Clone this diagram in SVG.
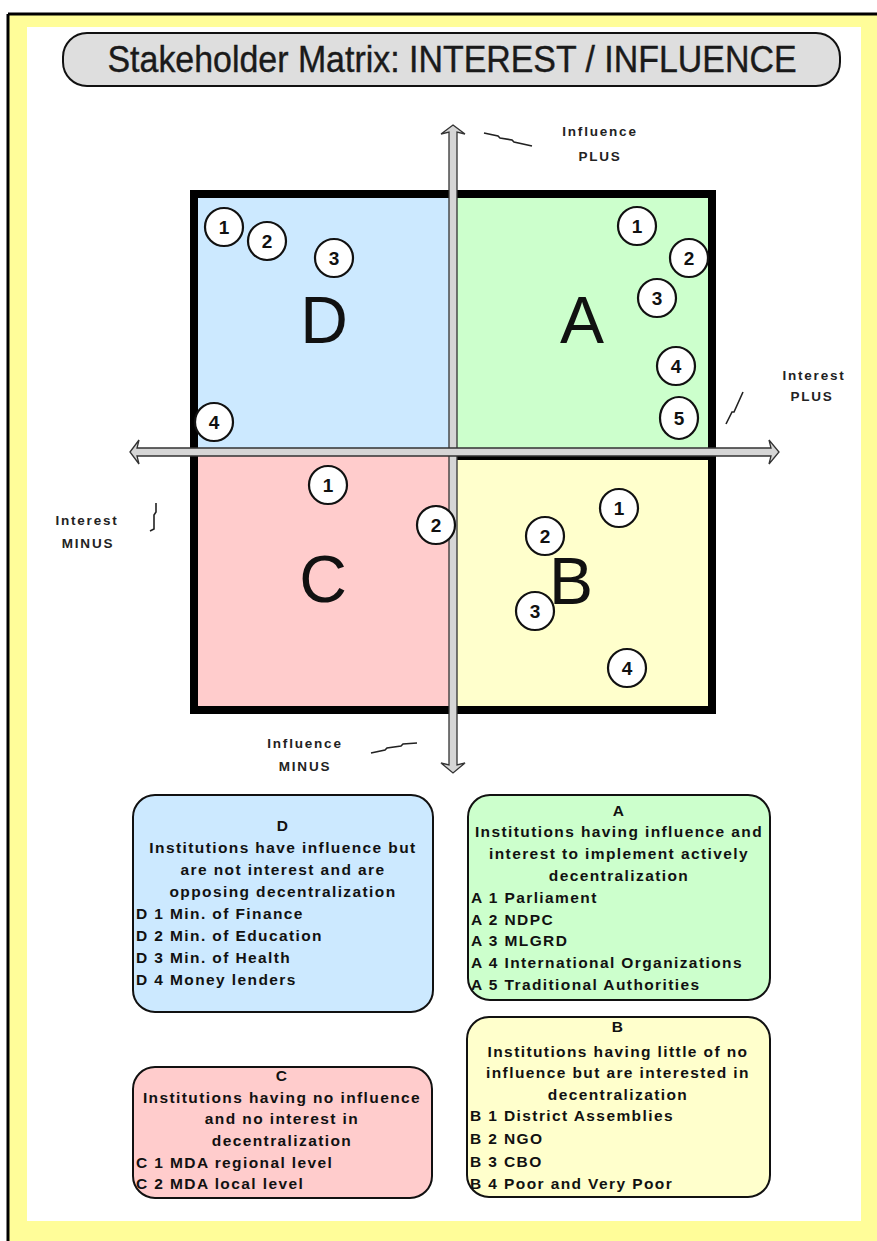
<svg xmlns="http://www.w3.org/2000/svg" width="877" height="1241" viewBox="0 0 877 1241">
  <style>
    .lbl { font-family: "Liberation Sans", Arial, sans-serif; font-weight: bold; font-size: 13.5px; letter-spacing: 1.8px; fill: #222; text-anchor: middle; }
    .quad { font-family: "Liberation Sans", Arial, sans-serif; font-size: 66px; fill: #111; text-anchor: middle; }
    .num { font-family: "Liberation Sans", Arial, sans-serif; font-weight: bold; font-size: 19px; fill: #111; text-anchor: middle; }
    .dot { fill: #fff; stroke: #111; stroke-width: 2.2; }
    .box { stroke: #111; stroke-width: 2; }
    .bt { font-family: "Liberation Sans", Arial, sans-serif; font-weight: bold; font-size: 15.5px; letter-spacing: 1.4px; fill: #111; }
    .c { text-anchor: middle; }
    .axis { fill: #d6d6d6; stroke: #333; stroke-width: 1.3; stroke-linejoin: miter; }
    .zig { fill: none; stroke: #222; stroke-width: 1.6; }
  </style>

  <!-- page frame -->
  <rect x="0" y="0" width="877" height="1241" fill="#fff"/>
  <rect x="8" y="15" width="869" height="1226" fill="#fffd99"/>
  <line x1="8" y1="14" x2="877" y2="14" stroke="#000" stroke-width="3"/>
  <line x1="8" y1="14" x2="8" y2="1241" stroke="#000" stroke-width="3"/>
  <rect x="27" y="27" width="834" height="1194" fill="#fff"/>

  <!-- title -->
  <g id="title">
    <rect x="63" y="33" width="777" height="53" rx="24" ry="24" fill="#dedede" stroke="#111" stroke-width="2"/>
    <text x="452" y="72" font-family="'Liberation Sans', Arial, sans-serif" font-size="36" fill="#1a1a1a" stroke="#1a1a1a" stroke-width="0.4" text-anchor="middle" textLength="689" lengthAdjust="spacingAndGlyphs">Stakeholder Matrix: INTEREST / INFLUENCE</text>
  </g>

  <!-- matrix quadrants -->
  <g id="matrix">
    <rect x="190" y="190" width="526" height="524" fill="#000"/>
    <rect id="quad-D" x="198" y="198" width="251" height="250" fill="#cce9ff"/>
    <rect id="quad-A" x="457" y="198" width="251" height="250" fill="#ccffcc"/>
    <rect id="quad-C" x="198" y="456" width="251" height="250" fill="#ffcccc"/>
    <rect id="quad-B" x="457" y="460" width="251" height="246" fill="#ffffcc"/>
    <text class="quad" x="324" y="343">D</text>
    <text class="quad" x="582" y="343">A</text>
    <text class="quad" x="323" y="602">C</text>
    <text class="quad" x="571" y="604">B</text>
  </g>

  <!-- axes -->
  <g id="axes">
    <path class="axis" d="M453,125 L465,134 L457,132 L457,765 L465,763 L453,773 L441,763 L449,765 L449,132 L441,134 Z"/>
    <path class="axis" d="M130,452 L139,440 L137,448 L771,448 L769,440 L779,452 L769,464 L771,456 L137,456 L139,464 Z"/>
  </g>

  <!-- stakeholder markers -->
  <g id="markers-D">
    <circle class="dot" cx="224" cy="227" r="19"/><text class="num" x="224" y="234">1</text>
    <circle class="dot" cx="267" cy="241" r="19"/><text class="num" x="267" y="248">2</text>
    <circle class="dot" cx="334" cy="258" r="19"/><text class="num" x="334" y="265">3</text>
    <circle class="dot" cx="214" cy="422" r="19"/><text class="num" x="214" y="429">4</text>
  </g>
  <g id="markers-A">
    <circle class="dot" cx="637" cy="226" r="19"/><text class="num" x="637" y="233">1</text>
    <circle class="dot" cx="689" cy="258" r="19"/><text class="num" x="689" y="265">2</text>
    <circle class="dot" cx="657" cy="298" r="19"/><text class="num" x="657" y="305">3</text>
    <circle class="dot" cx="676" cy="366" r="19"/><text class="num" x="676" y="373">4</text>
    <ellipse class="dot" cx="679" cy="418" rx="19" ry="21"/><text class="num" x="679" y="425">5</text>
  </g>
  <g id="markers-C">
    <circle class="dot" cx="328" cy="485" r="19"/><text class="num" x="328" y="492">1</text>
    <circle class="dot" cx="436" cy="525" r="19"/><text class="num" x="436" y="532">2</text>
  </g>
  <g id="markers-B">
    <circle class="dot" cx="619" cy="508" r="19"/><text class="num" x="619" y="515">1</text>
    <circle class="dot" cx="545" cy="536" r="19"/><text class="num" x="545" y="543">2</text>
    <circle class="dot" cx="535" cy="611" r="19"/><text class="num" x="535" y="618">3</text>
    <circle class="dot" cx="627" cy="668" r="19"/><text class="num" x="627" y="675">4</text>
  </g>

  <!-- axis labels -->
  <g id="label-influence-plus">
    <text class="lbl" x="600" y="136">Influence</text>
    <text class="lbl" x="600" y="161">PLUS</text>
  </g>
  <g id="label-interest-plus">
    <text class="lbl" x="814" y="380">Interest</text>
    <text class="lbl" x="812" y="401">PLUS</text>
  </g>
  <g id="label-interest-minus">
    <text class="lbl" x="87" y="525">Interest</text>
    <text class="lbl" x="88" y="548">MINUS</text>
  </g>
  <g id="label-influence-minus">
    <text class="lbl" x="305" y="748">Influence</text>
    <text class="lbl" x="305" y="771">MINUS</text>
  </g>

  <!-- leader lines from labels to axes -->
  <g id="connectors">
    <polyline class="zig" points="484,133 498,136 500,138 512,140 514,142 532,146"/>
    <polyline class="zig" points="726,424 732,412 734,412 743,392"/>
    <polyline class="zig" points="150,531 154,529 154,515 156,512 156,503"/>
    <polyline class="zig" points="371,753 385,750 387,748 401,746 403,744 417,743"/>
  </g>

  <!-- legend boxes -->
  <g id="legend-D">
    <rect class="box" x="133" y="795" width="300" height="217" rx="22" ry="22" fill="#cce9ff"/>
    <text class="bt c" x="283" y="831">D</text>
    <text class="bt c" x="283" y="853">Institutions have influence but</text>
    <text class="bt c" x="283" y="875">are not interest and are</text>
    <text class="bt c" x="283" y="897">opposing decentralization</text>
    <text class="bt" x="136" y="919">D 1 Min. of Finance</text>
    <text class="bt" x="136" y="941">D 2 Min. of Education</text>
    <text class="bt" x="136" y="963">D 3 Min. of Health</text>
    <text class="bt" x="136" y="985">D 4 Money lenders</text>
  </g>
  <g id="legend-A">
    <rect class="box" x="468" y="795" width="302" height="205" rx="22" ry="22" fill="#ccffcc"/>
    <text class="bt c" x="619" y="816">A</text>
    <text class="bt c" x="619" y="837">Institutions having influence and</text>
    <text class="bt c" x="619" y="859">interest to implement actively</text>
    <text class="bt c" x="619" y="881">decentralization</text>
    <text class="bt" x="471" y="903">A 1 Parliament</text>
    <text class="bt" x="471" y="925">A 2 NDPC</text>
    <text class="bt" x="471" y="946">A 3 MLGRD</text>
    <text class="bt" x="471" y="968">A 4 International Organizations</text>
    <text class="bt" x="471" y="990">A 5 Traditional Authorities</text>
  </g>
  <g id="legend-C">
    <rect class="box" x="133" y="1067" width="299" height="131" rx="22" ry="22" fill="#ffcccc"/>
    <text class="bt c" x="282" y="1081">C</text>
    <text class="bt c" x="282" y="1103">Institutions having no influence</text>
    <text class="bt c" x="282" y="1124">and no interest in</text>
    <text class="bt c" x="282" y="1146">decentralization</text>
    <text class="bt" x="136" y="1168">C 1 MDA regional level</text>
    <text class="bt" x="136" y="1189">C 2 MDA local level</text>
  </g>
  <g id="legend-B">
    <rect class="box" x="467" y="1017" width="303" height="180" rx="22" ry="22" fill="#ffffcc"/>
    <text class="bt c" x="618" y="1032">B</text>
    <text class="bt c" x="618" y="1057">Institutions having little of no</text>
    <text class="bt c" x="618" y="1078">influence but are interested in</text>
    <text class="bt c" x="618" y="1100">decentralization</text>
    <text class="bt" x="470" y="1121">B 1 District Assemblies</text>
    <text class="bt" x="470" y="1144">B 2 NGO</text>
    <text class="bt" x="470" y="1167">B 3 CBO</text>
    <text class="bt" x="470" y="1189">B 4 Poor and Very Poor</text>
  </g>
</svg>
